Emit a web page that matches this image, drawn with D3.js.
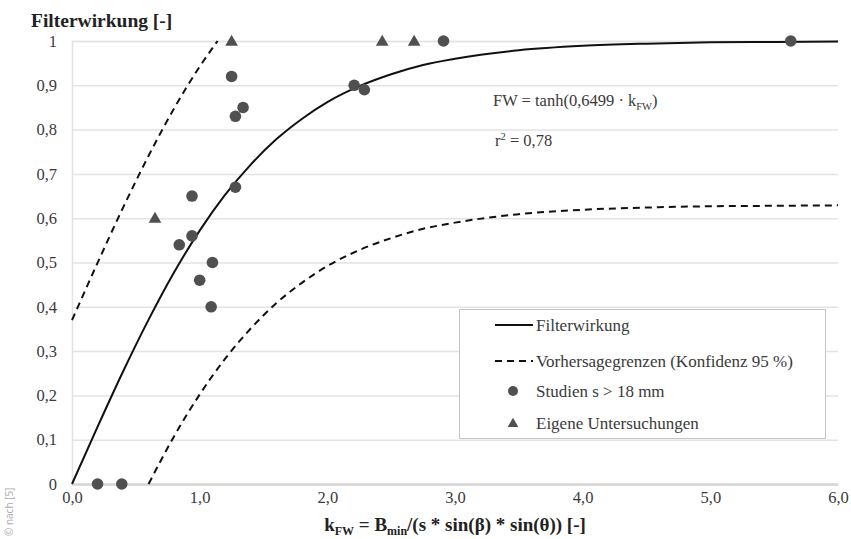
<!DOCTYPE html>
<html><head><meta charset="utf-8">
<script src="https://cdn.jsdelivr.net/npm/d3@7"></script>
<style>
html,body{margin:0;padding:0;background:#fff;}
svg{display:block;}
</style></head>
<body>
<svg id="chart" width="851" height="539"></svg>
<script>
// ---- data ----
const studienK  = [0.20, 0.39, 0.84, 0.94, 0.94, 1.00, 1.09, 1.10, 1.25, 1.28, 1.28, 1.34, 2.21, 2.29, 2.91, 5.63];
const studienFW = [0.00, 0.00, 0.54, 0.65, 0.56, 0.46, 0.40, 0.50, 0.92, 0.67, 0.83, 0.85, 0.90, 0.89, 1.00, 1.00];
const eigeneK   = [0.65, 1.25, 2.43, 2.68];
const eigeneFW  = [0.60, 1.00, 1.00, 1.00];
// fitted curve "Filterwirkung"
const fitK   = [0, 0.2, 0.4, 0.6, 0.8, 1.0, 1.2, 1.4, 1.6, 1.8, 2.0, 2.25, 2.5, 2.75, 3.0, 3.5, 4.0, 4.5, 5.0, 5.5, 6.0];
const fitFW  = [0, 0.129, 0.254, 0.371, 0.478, 0.572, 0.653, 0.721, 0.778, 0.824, 0.862, 0.898, 0.925, 0.946, 0.960, 0.979, 0.989, 0.994, 0.997, 0.998, 0.999];
// prediction bounds (95 %)
const upperK  = [0, 0.2, 0.4, 0.6, 0.8, 1.0, 1.14];
const upperFW = [0.37, 0.499, 0.624, 0.741, 0.848, 0.942, 1.0];
const lowerK  = [0.6, 0.8, 1.0, 1.2, 1.4, 1.6, 1.8, 2.0, 2.25, 2.5, 2.75, 3.0, 3.5, 4.0, 4.5, 5.0, 5.5, 6.0];
const lowerFW = [0.0, 0.108, 0.202, 0.283, 0.351, 0.408, 0.454, 0.492, 0.528, 0.555, 0.576, 0.590, 0.609, 0.619, 0.624, 0.627, 0.628, 0.629];
const xTicks = [0, 1, 2, 3, 4, 5, 6];
const xTickLabels = ["0,0", "1,0", "2,0", "3,0", "4,0", "5,0", "6,0"];
const yTicks = [0, 0.1, 0.2, 0.3, 0.4, 0.5, 0.6, 0.7, 0.8, 0.9, 1];
const yTickLabels = ["0", "0,1", "0,2", "0,3", "0,4", "0,5", "0,6", "0,7", "0,8", "0,9", "1"];
const legendLabels = ["Filterwirkung", "Vorhersagegrenzen (Konfidenz 95 %)", "Studien s > 18 mm", "Eigene Untersuchungen"];

// ---- layout ----
const SERIF = "'Liberation Serif', 'DejaVu Serif', serif";
const svg = d3.select("#chart");
const x = d3.scaleLinear().domain([0, 6]).range([72, 838]);
const y = d3.scaleLinear().domain([0, 1]).range([484, 41]);
const markColor = "#505050";
const gridColor = "#e3e3e3";
const textColor = "#3a3a3a";

// gridlines + y axis
const yAxis = d3.axisLeft(y).tickValues(yTicks)
  .tickFormat((d, i) => yTickLabels[i])
  .tickSize(-(x(6) - x(0))).tickPadding(15);
const gy = svg.append("g").attr("transform", `translate(${x(0)},0)`).call(yAxis);
gy.attr("font-family", null).attr("font-size", null);
gy.select(".domain").attr("stroke", gridColor).attr("stroke-width", 1.5);
gy.selectAll(".tick line").attr("stroke", gridColor).attr("stroke-width", 1.5);
gy.selectAll(".tick text").style("font-size", "16.5px").attr("fill", textColor).style("font-family", SERIF);

// x axis
const xAxis = d3.axisBottom(x).tickValues(xTicks)
  .tickFormat((d, i) => xTickLabels[i]).tickSize(0).tickPadding(7);
const gx = svg.append("g").attr("transform", `translate(0,${y(0)})`).call(xAxis);
gx.attr("font-family", null).attr("font-size", null);
gx.select(".domain").attr("stroke", "#d6d6d6").attr("stroke-width", 2.5);
gx.selectAll(".tick text").style("font-size", "16.5px").attr("fill", textColor).style("font-family", SERIF);

// curves
const line = d3.line().x(d => x(d[0])).y(d => y(d[1])).curve(d3.curveMonotoneX);
const zip = (a, b) => a.map((v, i) => [v, b[i]]);
svg.append("path").attr("d", line(zip(upperK, upperFW)))
  .attr("fill", "none").attr("stroke", "#111").attr("stroke-width", 2).attr("stroke-dasharray", "7,5");
svg.append("path").attr("d", line(zip(lowerK, lowerFW)))
  .attr("fill", "none").attr("stroke", "#111").attr("stroke-width", 2).attr("stroke-dasharray", "7,5");
svg.append("path").attr("d", line(zip(fitK, fitFW)))
  .attr("fill", "none").attr("stroke", "#111").attr("stroke-width", 2);

// points
svg.append("g").selectAll("circle").data(zip(studienK, studienFW)).join("circle")
  .attr("cx", d => x(d[0])).attr("cy", d => y(d[1])).attr("r", 5.8).attr("fill", markColor);
const tri = d3.symbol().type(d3.symbolTriangle).size(70);
svg.append("g").selectAll("path").data(zip(eigeneK, eigeneFW)).join("path")
  .attr("d", tri).attr("transform", d => `translate(${x(d[0])},${y(d[1]) + 1})`).attr("fill", markColor);

// formula text
const ft = svg.append("text").attr("x", 493).attr("y", 106).style("font-size", "16.5px").style("font-family", SERIF).attr("fill", textColor);
ft.append("tspan").text("FW = tanh(0,6499 · k");
ft.append("tspan").style("font-size", "10.5px").attr("dy", 4).text("FW");
ft.append("tspan").attr("dy", -4).text(")");
const rt = svg.append("text").attr("x", 495).attr("y", 146).style("font-size", "16.5px").style("font-family", SERIF).attr("fill", textColor);
rt.append("tspan").text("r");
rt.append("tspan").style("font-size", "10.5px").attr("dy", -6).text("2");
rt.append("tspan").attr("dy", 6).text(" = 0,78");

// legend
const lg = svg.append("g");
lg.append("rect").attr("x", 459.5).attr("y", 309.5).attr("width", 366).attr("height", 129)
  .attr("fill", "#fff").attr("stroke", "#c4c4c4").attr("stroke-width", 1);
const rows = [325, 361, 391, 423];
lg.append("line").attr("x1", 495).attr("x2", 533).attr("y1", rows[0]).attr("y2", rows[0])
  .attr("stroke", "#111").attr("stroke-width", 2);
lg.append("line").attr("x1", 495).attr("x2", 533).attr("y1", rows[1]).attr("y2", rows[1])
  .attr("stroke", "#111").attr("stroke-width", 2).attr("stroke-dasharray", "7,5");
lg.append("circle").attr("cx", 513).attr("cy", rows[2]).attr("r", 5).attr("fill", markColor);
lg.append("path").attr("d", d3.symbol().type(d3.symbolTriangle).size(50))
  .attr("transform", `translate(513,${rows[3] + 1})`).attr("fill", markColor);
lg.selectAll("text.lab").data(legendLabels).join("text").attr("class", "lab")
  .attr("x", 536).attr("y", (d, i) => rows[i] + 6)
  .style("font-size", "17px").style("font-family", SERIF).attr("fill", textColor).text(d => d);

// title
svg.append("text").attr("x", 31).attr("y", 27).style("font-size", "19.5px").style("font-weight", "bold")
  .style("font-family", SERIF).attr("fill", "#222").text("Filterwirkung [-]");

// x axis title
const xt = svg.append("text").attr("x", x(3)).attr("y", 531).attr("text-anchor", "middle")
  .style("font-size", "19px").style("font-weight", "bold").style("font-family", SERIF).attr("fill", "#222");
xt.append("tspan").text("k");
xt.append("tspan").style("font-size", "12px").attr("dy", 4).text("FW");
xt.append("tspan").attr("dy", -4).text(" = B");
xt.append("tspan").style("font-size", "12px").attr("dy", 4).text("min");
xt.append("tspan").attr("dy", -4).text("/(s * sin(β) * sin(θ)) [-]");

// credit
svg.append("text").attr("transform", "translate(13,536) rotate(-90)")
  .style("font-family", "'Open Sans', 'DejaVu Sans', sans-serif")
  .style("font-size", "10px").attr("fill", "#aaa").text("© nach [5]");
</script>
</body></html>
